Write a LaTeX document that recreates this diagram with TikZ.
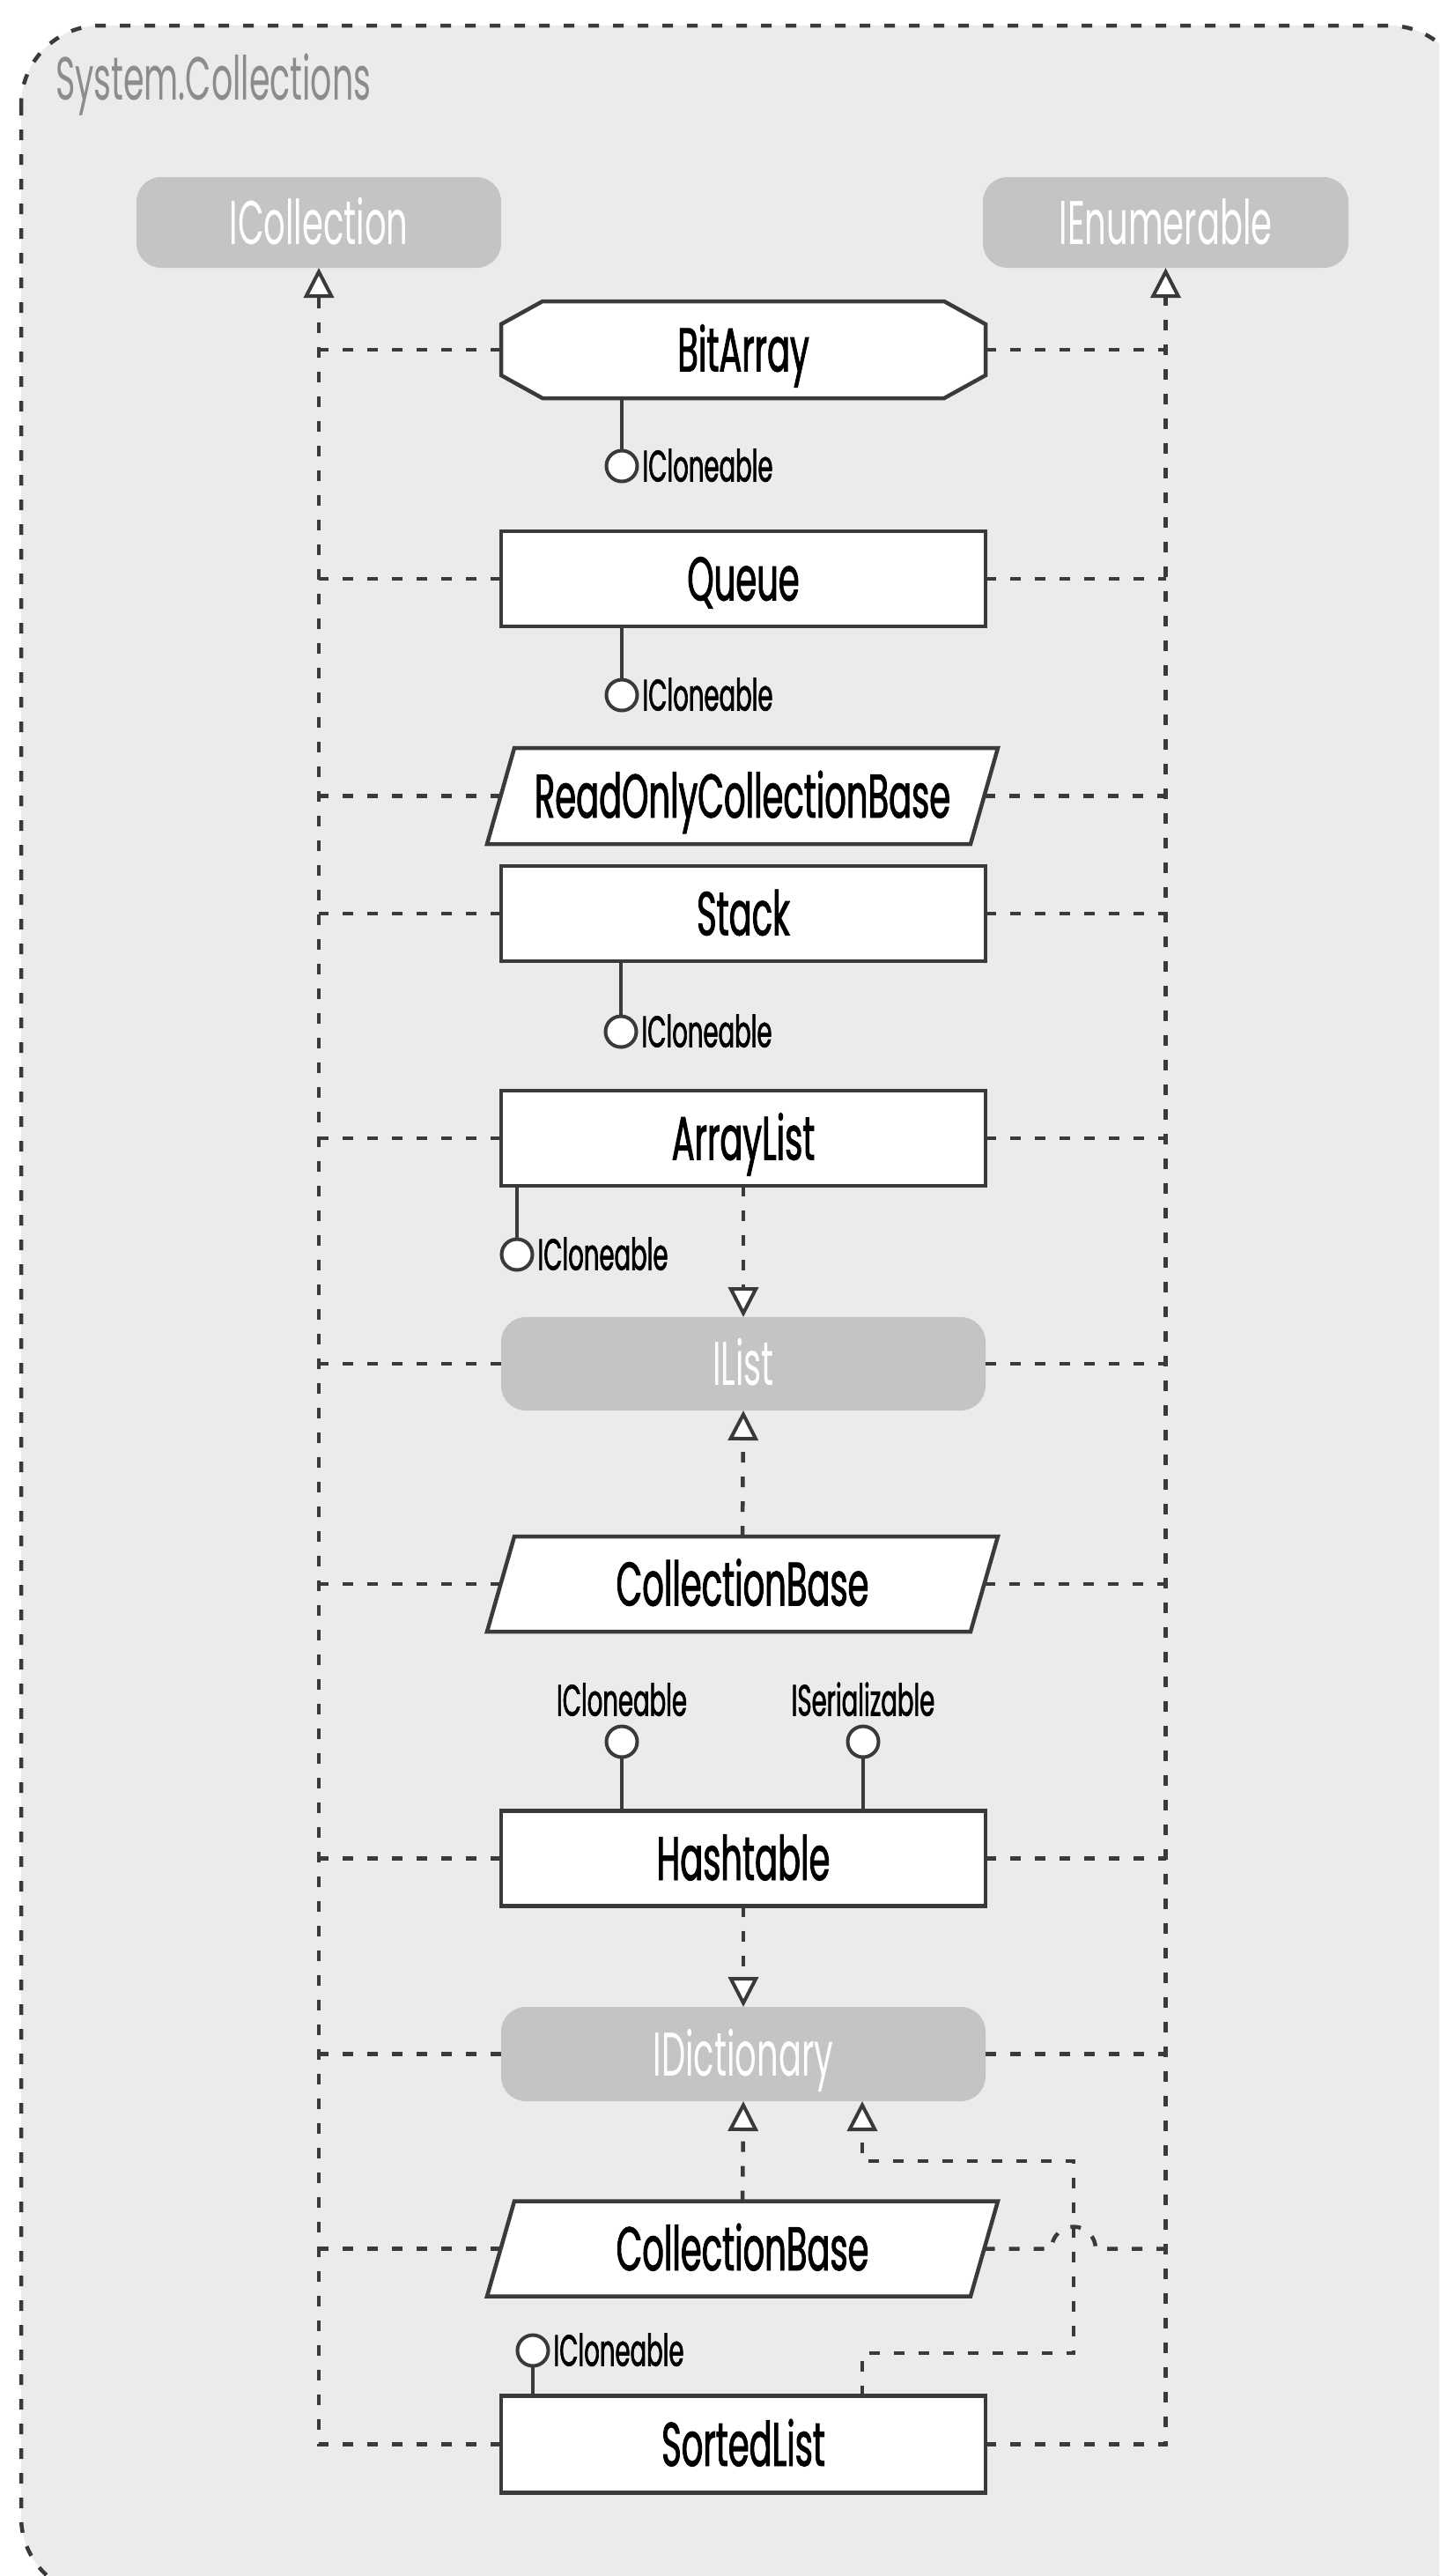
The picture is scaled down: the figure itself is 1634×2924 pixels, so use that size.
\documentclass[tikz,border=0pt]{standalone}
\usepackage{fontspec}
\usetikzlibrary{arrows.meta}
\newfontfamily\diafont{Poppins}[FakeStretch=0.55]
\newfontfamily\diafontheavy{Poppins}[FakeStretch=0.55, FakeBold=1.3]
\definecolor{frameBg}{HTML}{EBEBEB}
\definecolor{ifaceFill}{HTML}{C4C4C4}
\definecolor{ink}{HTML}{3A3A3A}
\definecolor{pkgText}{HTML}{8C8C8C}
\pgfdeclarelayer{frame}
\pgfdeclarelayer{shapes}
\pgfsetlayers{frame,shapes,main}
\tikzset{
  every node/.style={outer sep=0pt, inner sep=0pt},
  clsbox/.style={minimum width=550pt, minimum height=108pt, text height=49pt, text depth=0pt,
    font=\diafontheavy\fontsize{70}{80}\selectfont, text=black},
  cls/.style={clsbox, draw=ink, fill=white, line width=4.5pt},
  iface/.style={clsbox, fill=ifaceFill, rounded corners=28pt, text=white,
    font=\diafont\fontsize{70}{80}\selectfont},
  outline/.style={draw=ink, fill=white, line width=4.5pt, line join=miter},
  dep/.style={draw=ink, line width=4.5pt, dash pattern=on 12pt off 16pt},
  realize/.style={dep, -{Triangle[width=34pt,length=34pt,fill=white,line width=4pt]}},
  lolli/.style={circle, draw=ink, fill=white, line width=4pt, minimum size=35pt},
  stick/.style={draw=ink, line width=4.5pt},
  ilabel/.style={font=\diafontheavy\fontsize{50}{60}\selectfont, text height=35pt, text depth=0pt},
  pkg/.style={font=\diafont\fontsize{69}{80}\selectfont, text=pkgText},
}
\begin{document}
\begin{tikzpicture}[x=1pt,y=-1pt]
\useasboundingbox (0,0) rectangle (1634,2924);

% package frame
\begin{pgfonlayer}{frame}
  \begin{scope}
    \clip (0,0) rectangle (1634,2924);
    \draw[dep, fill=frameBg, rounded corners=90pt] (24,29) rectangle (1667,2947);
  \end{scope}
\end{pgfonlayer}
\node[pkg, anchor=base west] (pkgname) at (63,113) {System.Collections};

% interfaces at the top
\node[iface, minimum width=414pt, minimum height=103pt] (icoll) at (362,252.5) {ICollection};
\node[iface, minimum width=415pt, minimum height=103pt] (ienum) at (1323.5,252.5) {IEnumerable};

% classes and interfaces of the column
\node[clsbox, minimum height=110pt] (bitarray) at (844,397) {BitArray};
\node[cls] (queue) at (844,657) {Queue};
\node[clsbox, minimum width=549pt, minimum height=109pt] (rocb) at (843,903.5) {ReadOnlyCollectionBase};
\node[cls] (stack) at (844,1037) {Stack};
\node[cls] (arraylist) at (844,1292) {ArrayList};
\node[iface, minimum height=106pt] (ilist) at (844,1548) {IList};
\node[clsbox, minimum width=549pt] (cbase) at (843,1798) {CollectionBase};
\node[cls] (hashtable) at (844,2109.5) {Hashtable};
\node[iface, minimum height=107pt] (idict) at (844,2331.5) {IDictionary};
\node[clsbox, minimum width=549pt] (cbase2) at (843,2552.5) {CollectionBase};
\node[cls, minimum height=110pt] (sorted) at (844,2774.5) {SortedList};

% outlines of the chamfered and slanted boxes
\begin{pgfonlayer}{shapes}
  \draw[outline] ([xshift=47pt]bitarray.north west) -- ([xshift=-47pt]bitarray.north east)
    -- ([yshift=-26pt]bitarray.north east) -- ([yshift=26pt]bitarray.south east)
    -- ([xshift=-47pt]bitarray.south east) -- ([xshift=47pt]bitarray.south west)
    -- ([yshift=26pt]bitarray.south west) -- ([yshift=-26pt]bitarray.north west) -- cycle;
  \foreach \p in {rocb,cbase,cbase2}{
    \draw[outline] ([xshift=15.5pt]\p.north west) -- ([xshift=15.5pt]\p.north east)
      -- ([xshift=-15.5pt]\p.south east) -- ([xshift=-15.5pt]\p.south west) -- cycle;
  }
\end{pgfonlayer}

% trunks to ICollection and IEnumerable
\draw[realize] (sorted.west) -| (icoll.south);
\draw[realize] (sorted.east) -| (ienum.south);
\foreach \n in {bitarray,queue,rocb,stack,arraylist,ilist,cbase,hashtable,idict,cbase2}{
  \draw[dep] (\n.west) -- (\n.west -| icoll.south);
}
\foreach \n in {bitarray,queue,rocb,stack,arraylist,ilist,cbase,hashtable,idict}{
  \draw[dep] (\n.east) -- (\n.east -| ienum.south);
}

% IList and IDictionary realizations
\draw[realize] (arraylist.south) -- (ilist.north);
\draw[realize] (cbase.north) -- (ilist.south);
\draw[realize] (hashtable.south) -- (idict.north);
\draw[realize] (cbase2.north) -- (idict.south);
\coordinate (loopA) at (1219,2671);
\coordinate (loopB) at (1219,2453);
\draw[realize] ([xshift=135pt]sorted.north) |- (loopA) -- (loopB) -| ([xshift=135pt]idict.south);
\draw[dep] (cbase2.east) -- ([xshift=-25pt]cbase2.east -| loopA)
  arc[start angle=180, end angle=360, radius=25] -- (cbase2.east -| ienum.south);

% ICloneable / ISerializable lollipops
\node[lolli] (bitclone) at (706,529) {};
\draw[stick] (bitclone.north) -- (bitclone.north |- bitarray.south);
\node[ilabel, anchor=west] (bitclonelbl) at ([xshift=6pt]bitclone.east) {ICloneable};

\node[lolli] (queueclone) at (706,789) {};
\draw[stick] (queueclone.north) -- (queueclone.north |- queue.south);
\node[ilabel, anchor=west] (queueclonelbl) at ([xshift=6pt]queueclone.east) {ICloneable};

\node[lolli] (stackclone) at (705,1171) {};
\draw[stick] (stackclone.north) -- (stackclone.north |- stack.south);
\node[ilabel, anchor=west] (stackclonelbl) at ([xshift=6pt]stackclone.east) {ICloneable};

\node[lolli] (alclone) at (587,1424) {};
\draw[stick] (alclone.north) -- (alclone.north |- arraylist.south);
\node[ilabel, anchor=west] (alclonelbl) at ([xshift=6pt]alclone.east) {ICloneable};

\node[lolli] (htclone) at (706,1977) {};
\draw[stick] (htclone.south) -- (htclone.south |- hashtable.north);
\node[ilabel, anchor=south] (htclonelbl) at ([yshift=12pt]htclone.north) {ICloneable};

\node[lolli] (htser) at (980,1977) {};
\draw[stick] (htser.south) -- (htser.south |- hashtable.north);
\node[ilabel, anchor=south] (htserlbl) at ([yshift=12pt]htser.north) {ISerializable};

\node[lolli] (slclone) at (605,2668) {};
\draw[stick] (slclone.south) -- (slclone.south |- sorted.north);
\node[ilabel, anchor=west] (slclonelbl) at ([xshift=6pt]slclone.east) {ICloneable};
\end{tikzpicture}
\end{document}
